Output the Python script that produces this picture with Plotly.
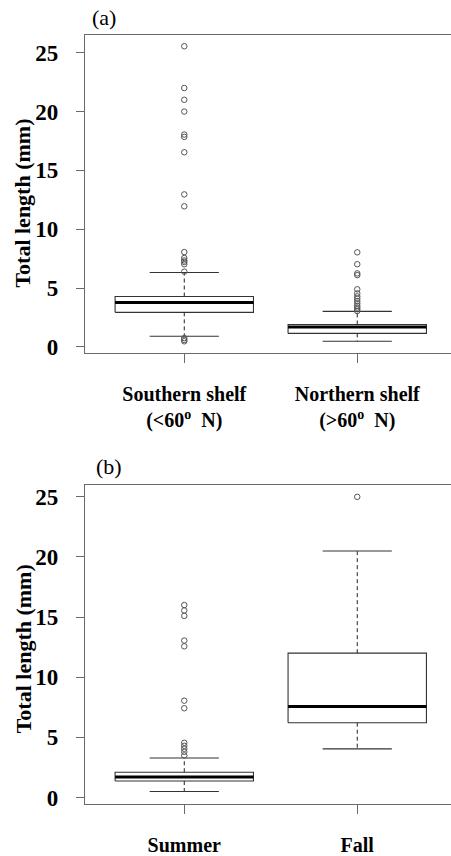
import plotly.graph_objects as go
from plotly.subplots import make_subplots

# ---------------- data ----------------
# panel (a): region
region_labels = ["Southern shelf<br>(<60<sup>o</sup>  N)", "Northern shelf<br>(>60<sup>o</sup>  N)"]
region_lower = [0.91, 0.48]
region_q1 = [2.94, 1.15]
region_median = [3.78, 1.70]
region_q3 = [4.28, 1.91]
region_upper = [6.32, 3.02]
south_outliers = [25.55, 22.0, 21.0, 20.0, 18.05, 17.85, 16.54, 12.96, 11.95,
                  8.06, 7.56, 7.35, 7.22, 7.03, 6.40, 0.75, 0.60, 0.48]
north_outliers = [8.04, 7.03, 6.25, 6.10, 4.90, 4.55, 4.30, 4.10, 3.90,
                  3.70, 3.50, 3.35, 3.20, 3.05]

# panel (b): season
season_labels = ["Summer", "Fall"]
season_lower = [0.50, 4.04]
season_q1 = [1.37, 6.22]
season_median = [1.70, 7.56]
season_q3 = [2.10, 12.0]
season_upper = [3.28, 20.5]
summer_outliers = [16.0, 15.55, 15.1, 13.05, 12.57, 8.05, 7.42, 4.55, 4.30,
                   4.05, 3.80, 3.50]
fall_outliers = [25.0]

yticks = [0, 5, 10, 15, 20, 25]

# ---------------- style ----------------
FONT = "Liberation Serif"
FRAME = "#6a6a6a"
BOX_HALF = 0.4
CAP_HALF = 0.2

fig = make_subplots(rows=2, cols=1)


def add_boxes(row, lows, q1s, meds, q3s, ups, outs):
    for i in range(len(meds)):
        c = i + 1
        # box
        fig.add_trace(go.Scatter(
            x=[c - BOX_HALF, c + BOX_HALF, c + BOX_HALF, c - BOX_HALF, c - BOX_HALF],
            y=[q1s[i], q1s[i], q3s[i], q3s[i], q1s[i]],
            mode="lines", line=dict(color="#333333", width=1.1),
            showlegend=False, hoverinfo="skip"), row=row, col=1)
        # median
        fig.add_trace(go.Scatter(
            x=[c - BOX_HALF, c + BOX_HALF], y=[meds[i], meds[i]],
            mode="lines", line=dict(color="black", width=3),
            showlegend=False, hoverinfo="skip"), row=row, col=1)
        # whiskers (dashed)
        for a, b in ((q3s[i], ups[i]), (q1s[i], lows[i])):
            fig.add_trace(go.Scatter(
                x=[c, c], y=[a, b], mode="lines",
                line=dict(color="#222222", width=1, dash="4px,3px"),
                showlegend=False, hoverinfo="skip"), row=row, col=1)
        # caps
        for v in (ups[i], lows[i]):
            fig.add_trace(go.Scatter(
                x=[c - CAP_HALF, c + CAP_HALF], y=[v, v], mode="lines",
                line=dict(color="#333333", width=1.1),
                showlegend=False, hoverinfo="skip"), row=row, col=1)
        # outliers
        fig.add_trace(go.Scatter(
            x=[c] * len(outs[i]), y=outs[i], mode="markers",
            marker=dict(symbol="circle-open", size=5.5, color="#555555",
                        line=dict(width=1, color="#555555")),
            showlegend=False, hoverinfo="skip"), row=row, col=1)


add_boxes(1, region_lower, region_q1, region_median, region_q3, region_upper,
          [south_outliers, north_outliers])
add_boxes(2, season_lower, season_q1, season_median, season_q3, season_upper,
          [summer_outliers, fall_outliers])

H = 856.0
W = 451.0
xrange_ = [0.426, 2.542]

xcommon = dict(range=xrange_, tickvals=[1, 2], showline=True, mirror=True,
               linecolor=FRAME, linewidth=1.2, ticks="outside", ticklen=9,
               tickcolor=FRAME, tickwidth=1.2, showgrid=False, zeroline=False,
               tickfont=dict(family=FONT, size=20, color="black", weight="bold"),
               domain=[85 / W, 1.0], fixedrange=True)
ycommon = dict(tickvals=yticks, showline=True, mirror=False, linecolor=FRAME,
               linewidth=1.2, ticks="outside", ticklen=8, tickcolor=FRAME,
               tickwidth=1.2, showgrid=False, zeroline=False,
               tickfont=dict(family=FONT, size=23, color="black", weight="bold"),
               ticklabelstandoff=13, fixedrange=True)

fig.update_xaxes(**xcommon, ticktext=region_labels, ticklabelstandoff=14, row=1, col=1)
fig.update_xaxes(**xcommon, ticktext=season_labels, ticklabelstandoff=14, row=2, col=1)
fig.update_yaxes(**ycommon, range=[-0.5, 26.54], domain=[1 - 357 / H, 1 - 35 / H], row=1, col=1)
fig.update_yaxes(**ycommon, range=[-0.5, 25.96], domain=[1 - 813 / H, 1 - 491 / H], row=2, col=1)

annots = [
    dict(text="(a)", x=90 / W, y=1 - 17.5 / H, xanchor="left", yanchor="middle",
         font=dict(family=FONT, size=22, color="black")),
    dict(text="(b)", x=94 / W, y=1 - 472 / H, xanchor="left", yanchor="middle",
         font=dict(family=FONT, size=22, color="black")),
    dict(text="Total length (mm)", x=23 / W, y=1 - 206 / H, textangle=-90,
         xanchor="center", yanchor="middle",
         font=dict(family=FONT, size=22, color="black", weight="bold")),
    dict(text="Total length (mm)", x=23 / W, y=1 - 657 / H, textangle=-90,
         xanchor="center", yanchor="middle",
         font=dict(family=FONT, size=22, color="black", weight="bold")),
]
for a in annots:
    a.update(xref="paper", yref="paper", showarrow=False)

fig.update_layout(width=451, height=856, margin=dict(l=0, r=0, t=0, b=0),
                  paper_bgcolor="white", plot_bgcolor="white",
                  annotations=annots, showlegend=False)

fig.write_html("out.html", config={"displayModeBar": False},
               post_script="document.body.style.margin='0';document.body.style.overflow='hidden';")
